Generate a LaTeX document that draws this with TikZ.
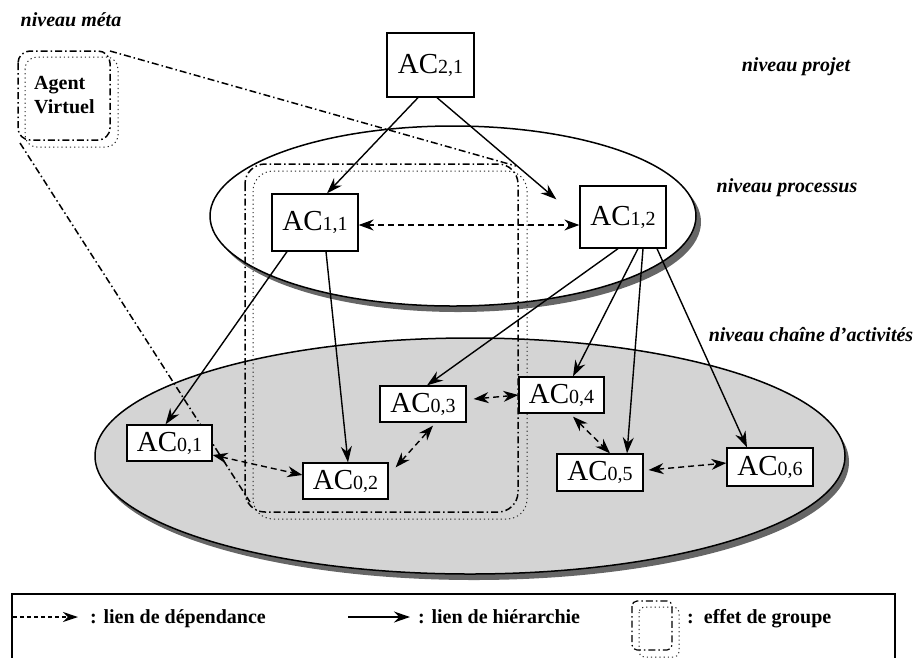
\documentclass[tikz,border=0pt]{standalone}
\usepackage{fontspec}
\setmainfont{Liberation Serif}
\usetikzlibrary{arrows.meta}
\newcommand\acl[1]{AC{\fontsize{20}{20}\selectfont #1}}
\begin{document}
\begin{tikzpicture}[x=1pt,y=-1pt,
  acbox/.style={draw,fill=white,line width=1.3pt,inner sep=0pt,font=\fontsize{29}{30}\selectfont},
  lvl/.style={font=\bfseries\itshape\fontsize{20}{24}\selectfont,inner sep=0pt},
  leg/.style={font=\bfseries\fontsize{20}{24}\selectfont,anchor=base west,inner sep=0pt},
  hier/.style={line width=1.4pt,-{Stealth[length=16pt,width=11pt]}},
  dep/.style={line width=1.4pt,dash pattern=on 6pt off 4pt,{Stealth[length=15pt,width=11pt]}-{Stealth[length=15pt,width=11pt]}},
  dashdot/.style={line width=1.5pt,dash pattern=on 7pt off 3pt on 1.5pt off 3pt},
  finedot/.style={line width=1pt,dash pattern=on 1.2pt off 3pt,black!85},
  shadowfill/.style={fill=black!60,draw=none},
]
\useasboundingbox (0,0) rectangle (920,657);

% chain-of-activities level ellipse
\fill[shadowfill] (474,462) ellipse [x radius=375pt,y radius=118pt];
\draw[line width=1.5pt,fill=black!17] (470,456) ellipse [x radius=375pt,y radius=118pt];

% process level ellipse
\fill[shadowfill] (458,222) ellipse [x radius=243pt,y radius=90pt];
\draw[line width=1.5pt,fill=white] (453,216) ellipse [x radius=243pt,y radius=90pt];

% group effect outline
\draw[dashdot,rounded corners=20pt] (245,164) rectangle (518,512);
\draw[finedot,rounded corners=20pt] (253,171) rectangle (527,519);

% virtual agent
\draw[dashdot,rounded corners=12pt] (18,51) rectangle (110,140);
\draw[finedot,rounded corners=12pt] (25,57) rectangle (118,147);
\node[font=\bfseries\fontsize{20}{24}\selectfont,align=left,anchor=west,inner sep=0pt] (agent) at (34,95) {Agent\\Virtuel};
\coordinate (avtr) at (110,51);
\coordinate (avbl) at (20,143);
\coordinate (grtr) at (516,166);
\coordinate (grbl) at (250,502);
\draw[dashdot] (avtr) -- (grtr);
\draw[dashdot] (avbl) -- (grbl);

% level labels
\node[lvl] (meta) at (71,20) {niveau méta};
\node[lvl] (projet) at (796,67) {niveau projet};
\node[lvl] (proc) at (787,188) {niveau processus};
\node[lvl] (chaine) at (811,335) {niveau chaîne d’activités};

% agents
\node[acbox,minimum width=87pt,minimum height=64pt] (n21) at (430.5,65) {\acl{2,1}};
\node[acbox,minimum width=86pt,minimum height=57pt] (n11) at (315,222.5) {\acl{1,1}};
\node[acbox,minimum width=86pt,minimum height=62pt] (n12) at (623,217) {\acl{1,2}};
\node[acbox,minimum width=85pt,minimum height=36pt] (n01) at (169.5,443) {\acl{0,1}};
\node[acbox,minimum width=85pt,minimum height=36pt] (n02) at (345.5,481) {\acl{0,2}};
\node[acbox,minimum width=86pt,minimum height=36pt] (n03) at (423,404) {\acl{0,3}};
\node[acbox,minimum width=85pt,minimum height=36pt] (n04) at (561.5,395) {\acl{0,4}};
\node[acbox,minimum width=86pt,minimum height=37pt] (n05) at (600,472.5) {\acl{0,5}};
\node[acbox,minimum width=86pt,minimum height=38pt] (n06) at (770,467) {\acl{0,6}};

% hierarchy links
\draw[hier] ([xshift=-12.5pt]n21.south) -- ([xshift=12pt]n11.north);
\draw[hier] ([xshift=6.5pt]n21.south) -- ([xshift=-23pt,yshift=-14pt]n12.north west);
\draw[hier] ([xshift=-28pt]n11.south) -- ([xshift=-4pt]n01.north);
\draw[hier] ([xshift=11pt]n11.south) -- ([xshift=2.5pt]n02.north);
\draw[hier] ([xshift=-5pt]n12.south) -- ([xshift=4pt]n03.north);
\draw[hier] ([xshift=15pt]n12.south) -- ([xshift=11.5pt]n04.north);
\draw[hier] ([xshift=20pt]n12.south) -- ([xshift=27pt]n05.north);
\draw[hier] ([xshift=34pt]n12.south) -- ([xshift=-23pt]n06.north);

% dependency links
\draw[dep] ([yshift=-2.5pt]n11.east) -- ([yshift=-8pt]n12.west);
\draw[dep] ([yshift=-12pt]n01.east) -- ([yshift=6pt]n02.west);
\draw[dep] ([xshift=7pt,yshift=-5pt]n02.north east) -- ([xshift=10pt,yshift=-3pt]n03.south);
\draw[dep] ([xshift=7pt,yshift=5pt]n03.east) -- (n04.west);
\draw[dep] ([xshift=11.5pt,yshift=-3pt]n04.south) -- ([xshift=10pt]n05.north);
\draw[dep] ([xshift=5pt,yshift=2.5pt]n05.east) -- ([yshift=4pt]n06.west);

% legend
\draw[line width=1.5pt] (12,660) -- (12,594) -- (895,594) -- (895,660);
\coordinate (ld1) at (13,617);
\coordinate (ld2) at (78,617);
\draw[line width=1.4pt,dash pattern=on 4pt off 3pt,-{Stealth[length=15pt,width=10pt]}] (ld1) -- (ld2);
\node[leg] (l1) at (90,623) {: lien de dépendance};
\coordinate (lh1) at (348,617);
\coordinate (lh2) at (410,617);
\draw[hier] (lh1) -- (lh2);
\node[leg] (l2) at (418,623) {: lien de hiérarchie};
\draw[dashdot,line width=1.2pt,rounded corners=5pt] (632,601) rectangle (672,650);
\draw[finedot,rounded corners=5pt] (639,607) rectangle (679,657);
\node[leg] (l3) at (687,623) {:\ \ effet de groupe};
\end{tikzpicture}
\end{document}
